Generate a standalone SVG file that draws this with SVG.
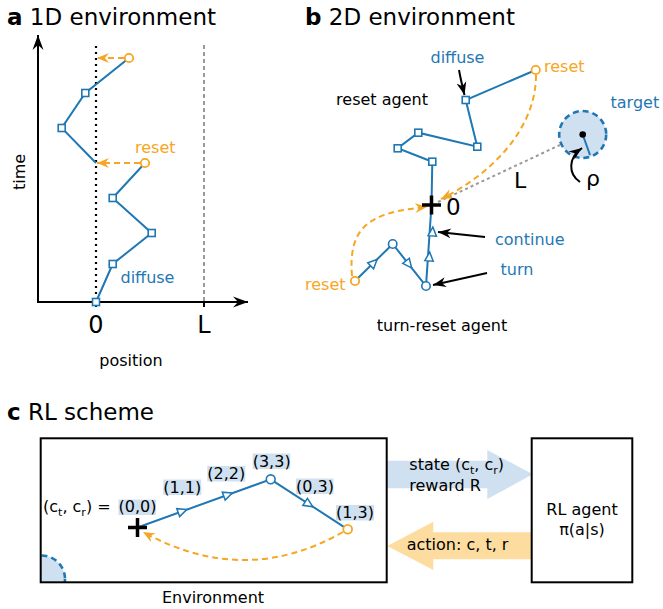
<svg xmlns="http://www.w3.org/2000/svg" width="663" height="609" viewBox="0 0 663 609">
<style>
text{font-family:"DejaVu Sans","Liberation Sans",sans-serif;font-size:16px;fill:#000}
.title{font-size:23px}
.bold{font-weight:bold}
.blue{fill:#1f77b4}
.orange{fill:#f6a623}
.big{font-size:24px}
.traj{fill:none;stroke:#1f77b4;stroke-width:2}
.sq{fill:#fff;stroke:#1f77b4;stroke-width:1.6}
.cb{fill:#fff;stroke:#1f77b4;stroke-width:1.6}
.co{fill:#fff;stroke:#f6a623;stroke-width:1.8}
.reset{fill:none;stroke:#f6a623;stroke-width:2;stroke-dasharray:6,4;marker-end:url(#ah-o)}
.blk{fill:none;stroke:#000;stroke-width:2;marker-end:url(#ah-k)}
.axis{fill:none;stroke:#000;stroke-width:2}
.plus{stroke:#000;stroke-width:3.5;fill:none}
.lbl{fill:#cfe0f0}
.box{fill:none;stroke:#000;stroke-width:2}
</style>
<defs>
<marker id="ah-o" viewBox="-12 -6 13 12" markerWidth="13" markerHeight="12" refX="0" refY="0" orient="auto" markerUnits="userSpaceOnUse"><path d="M0,0 L-12,-5 L-8,0 L-12,5 Z" fill="#f6a623"/></marker>
<marker id="ah-k" viewBox="-13 -6 14 12" markerWidth="14" markerHeight="12" refX="0" refY="0" orient="auto" markerUnits="userSpaceOnUse"><path d="M0,0 L-13,-5 L-9,0 L-13,5 Z" fill="#000"/></marker>
<marker id="ah-ax" viewBox="-15 -6 16 12" markerWidth="16" markerHeight="12" refX="0" refY="0" orient="auto" markerUnits="userSpaceOnUse"><path d="M0,0 L-15,-5.5 L-10,0 L-15,5.5 Z" fill="#000"/></marker>
<path id="tri" d="M5,0 L-4,-4.2 L-4,4.2 Z" fill="#fff" stroke="#1f77b4" stroke-width="1.5"/>
<clipPath id="envclip"><rect x="41" y="439" width="345" height="143"/></clipPath>
</defs>

<!-- Panel a -->
<g id="panel-a">
<text x="7" y="25" class="title"><tspan class="bold">a</tspan> 1D environment</text>
<path class="axis" d="M38,302 V35" marker-end="url(#ah-ax)"/>
<path class="axis" d="M37,302 H248" marker-end="url(#ah-ax)"/>
<path class="axis" d="M96,302 v5 M204,302 v5"/>
<path d="M96,46 V302" stroke="#000" stroke-width="2.2" stroke-dasharray="2,4" fill="none"/>
<path d="M204,45 V302" stroke="#999" stroke-width="2" stroke-dasharray="4,3" fill="none"/>
<text x="96" y="333" class="big" text-anchor="middle">0</text>
<text x="204" y="333" class="big" text-anchor="middle">L</text>
<text x="131" y="366" text-anchor="middle">position</text>
<text x="0" y="0" text-anchor="middle" transform="translate(25,172) rotate(-90)">time</text>
<g id="a-traj">
<path class="traj" d="M96,302 L112.7,264 L151.7,233 L112.7,198 L145,163"/>
<path class="traj" d="M96,163 L61.7,128 L85.3,93 L129,58"/>
<path class="reset" d="M140,163 H97"/>
<path class="reset" d="M124,58 H97"/>
<rect class="sq" x="92.5" y="298.5" width="7" height="7"/>
<rect class="sq" x="109.2" y="260.5" width="7" height="7"/>
<rect class="sq" x="148.2" y="229.5" width="7" height="7"/>
<rect class="sq" x="109.2" y="194.5" width="7" height="7"/>
<rect class="sq" x="58.2" y="124.5" width="7" height="7"/>
<rect class="sq" x="81.8" y="89.5" width="7" height="7"/>
<circle class="co" cx="145" cy="163" r="4.2"/>
<circle class="co" cx="129" cy="58" r="4.2"/>
</g>
<text x="135" y="153" class="orange">reset</text>
<text x="120.5" y="283" class="blue">diffuse</text>
</g>

<!-- Panel b -->
<g id="panel-b">
<text x="305" y="25" class="title"><tspan class="bold">b</tspan> 2D environment</text>
<g id="target">
<circle cx="582.7" cy="134.5" r="23.5" fill="#cfe0f0" stroke="#1f77b4" stroke-width="2.6" stroke-dasharray="6,4"/>
<path d="M582.7,134.5 L590,155" stroke="#1f77b4" stroke-width="2" fill="none"/>
<circle cx="582.7" cy="134.5" r="3.3" fill="#000"/>
</g>
<text x="610.5" y="108" class="blue">target</text>
<path class="blk" d="M580,182 C568,174 568,158 582,148"/>
<text x="586" y="186" style="font-size:22px">ρ</text>
<path d="M438,202 L560,145" stroke="#999" stroke-width="2" stroke-dasharray="3,3" fill="none"/>
<text x="514" y="188" style="font-size:22px">L</text>
<g id="reset-agent">
<path class="traj" d="M431.5,205 L432.3,161.7 L397.7,148.3 L418.3,132.7 L477.3,146.7 L465.7,100 L535.7,70"/>
<rect class="sq" x="428.8" y="158.2" width="7" height="7"/>
<rect class="sq" x="394.2" y="144.8" width="7" height="7"/>
<rect class="sq" x="414.8" y="129.2" width="7" height="7"/>
<rect class="sq" x="473.8" y="143.2" width="7" height="7"/>
<rect class="sq" x="462.2" y="96.5" width="7" height="7"/>
<path class="reset" d="M536,75 C536,130 490,175 441,199"/>
<circle class="co" cx="535.7" cy="70" r="4.2"/>
</g>
<g id="turn-reset-agent">
<path class="traj" d="M431.5,205 L426,286 L392.7,244 L355,281"/>
<use href="#tri" transform="translate(432.5,232) rotate(-86)"/>
<use href="#tri" transform="translate(429.3,257) rotate(-86)"/>
<use href="#tri" transform="translate(408.5,264) rotate(51.6)"/>
<use href="#tri" transform="translate(373.5,263) rotate(-44.5)"/>
<circle class="cb" cx="426" cy="286" r="4.2"/>
<circle class="cb" cx="392.7" cy="244" r="4.2"/>
<path class="reset" d="M352,276 C348,228 368,212 427,207"/>
<circle class="co" cx="355" cy="281" r="4.2"/>
</g>
<path class="plus" d="M422,205 H441 M431.5,195.5 V214.5"/>
<text x="446" y="215" style="font-size:23px">0</text>
<text x="382" y="105" text-anchor="middle">reset agent</text>
<text x="430.5" y="63" class="blue">diffuse</text>
<path class="blk" d="M459,70 Q461,81 464.5,95"/>
<text x="544" y="72" class="orange">reset</text>
<text x="495" y="245" class="blue">continue</text>
<path class="blk" d="M485,237 L438,232"/>
<text x="500.5" y="275" class="blue">turn</text>
<path class="blk" d="M487,273 L433,285"/>
<text x="305" y="290" class="orange">reset</text>
<text x="442" y="331" text-anchor="middle">turn-reset agent</text>
</g>

<!-- Panel c -->
<g id="panel-c">
<text x="7" y="420" class="title"><tspan class="bold">c</tspan> RL scheme</text>
<g id="state-arrow">
<polygon points="387,460.7 487.3,460.7 487.3,450 532.7,474.3 487.3,499 487.3,488.3 387,488.3" fill="#cfe0f0"/>
<text x="409.3" y="470">state (c<tspan font-size="11" dy="4">t</tspan><tspan dy="-4">, c</tspan><tspan font-size="11" dy="4">r</tspan><tspan dy="-4">)</tspan></text>
<text x="409.3" y="490.7">reward R</text>
</g>
<g id="action-arrow">
<polygon points="531.7,532.3 433.3,532.3 433.3,521.7 387.3,546 433.3,570 433.3,559.3 531.7,559.3" fill="#fddca0"/>
<text x="406.7" y="550">action: c, t, r</text>
</g>
<g id="environment">
<g clip-path="url(#envclip)">
<circle cx="41.5" cy="579" r="23.5" fill="#cfe0f0" stroke="#1f77b4" stroke-width="2.6" stroke-dasharray="6,4"/>
</g>
<rect class="box" x="40.7" y="438.3" width="346" height="144"/>
<text x="213" y="603" text-anchor="middle">Environment</text>
<rect class="lbl" x="118.5" y="499.5" width="37.5" height="15.5"/>
<rect class="lbl" x="163.3" y="479.5" width="38" height="15.5"/>
<rect class="lbl" x="207.3" y="466" width="38" height="15.5"/>
<rect class="lbl" x="252.7" y="453.5" width="37.5" height="15.5"/>
<rect class="lbl" x="296" y="478.5" width="37.5" height="15.5"/>
<rect class="lbl" x="336" y="505" width="38" height="15.5"/>
<text x="43" y="512">(c<tspan font-size="11" dy="4">t</tspan><tspan dy="-4">, c</tspan><tspan font-size="11" dy="4">r</tspan><tspan dy="-4">) = </tspan></text>
<text x="118.5" y="512">(0,0)</text>
<text x="163.3" y="492.5">(1,1)</text>
<text x="207.3" y="479">(2,2)</text>
<text x="252.7" y="466.5">(3,3)</text>
<text x="296" y="491.5">(0,3)</text>
<text x="336" y="518">(1,3)</text>
<path class="traj" d="M137.5,527.5 L270.7,479.3 L347.7,529.3"/>
<use href="#tri" transform="translate(182,511.3) rotate(-20)"/>
<use href="#tri" transform="translate(227.5,494.8) rotate(-20)"/>
<use href="#tri" transform="translate(308.5,504) rotate(33)"/>
<circle class="cb" cx="270.7" cy="479.3" r="4.4"/>
<path class="reset" d="M343,532 Q245,588 143,532"/>
<circle class="co" cx="347.7" cy="529.3" r="4.4"/>
<path class="plus" d="M128,527.5 H147 M137.5,518 V537"/>
</g>
<g id="rl-agent">
<rect class="box" x="531.7" y="438.3" width="100.6" height="144"/>
<text x="582" y="515" text-anchor="middle">RL agent</text>
<text x="582" y="535" text-anchor="middle">π(a|s)</text>
</g>
</g>
</svg>
